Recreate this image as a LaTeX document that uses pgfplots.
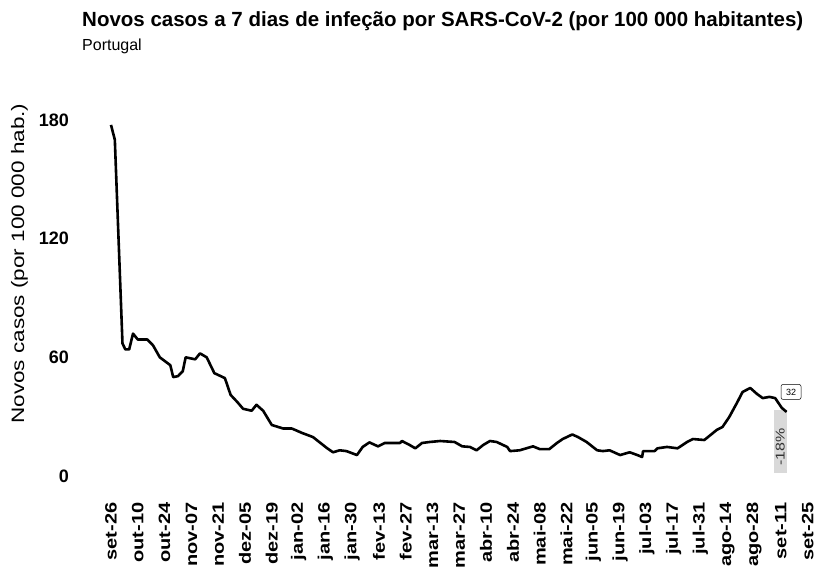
\documentclass[border=0pt]{standalone}
\usepackage{fontspec}
\setmainfont{Liberation Sans}
\usepackage{pgfplots}
\pgfplotsset{compat=1.18}

\begin{document}
\begin{tikzpicture}
\path[use as bounding box] (0pt,0pt) rectangle (819pt,-570pt);
\node[anchor=base west, inner sep=0pt, font=\bfseries\fontsize{20.5}{22}\selectfont]
  at (82pt,-26pt) {Novos casos a 7 dias de infeção por SARS-CoV-2 (por 100 000 habitantes)};
\node[anchor=base west, inner sep=0pt, font=\fontsize{16}{18}\selectfont]
  at (82pt,-50pt) {Portugal};
\begin{axis}[
    at={(101.43pt,-485.9pt)}, anchor=south west,
    scale only axis,
    width=713.9pt, height=369.9pt,
    xmin=-5, xmax=368, ymin=-5, ymax=182,
    clip=false,
    axis line style={draw=none},
    major tick length=0pt,
    /pgf/number format/assume math mode=true,
    ytick={0,60,120,180},
    yticklabel style={font=\bfseries\fontsize{18}{18}\selectfont, xshift=-29pt},
    xtick={0,14,...,364},
    xticklabels={set-26,out-10,out-24,nov-07,nov-21,dez-05,dez-19,jan-02,jan-16,jan-30,
      fev-13,fev-27,mar-13,mar-27,abr-10,abr-24,mai-08,mai-22,jun-05,jun-19,
      jul-03,jul-17,jul-31,ago-14,ago-28,set-11,set-25},
    xticklabel style={font=\bfseries\fontsize{20}{20}\selectfont, yshift=-13pt, rotate=90, yscale=0.82, anchor=east},
    ylabel={Novos casos (por 100 000 hab.)},
    ylabel style={font=\fontsize{22.5}{22.5}\selectfont, at={(rel axis cs:-0.1148,0.601)}, anchor=center, yscale=0.8},
]
% last-week bar
\addplot[fill=black!15, draw=none] coordinates {
  (346.5,1.5) (353,1.5) (353,33.4) (346.5,33.4)} -- cycle;
\addplot[black, line width=2.6pt, line join=round] coordinates {
(0,177.5) (2,170) (6,67) (7.5,64) (9.5,64) (11.5,72) (14,69) (19,69) (22,66)
(25.5,60) (31,56) (32.5,50) (35,50.5) (37.5,53) (39,60) (44,59) (46.5,62)
(50,60) (54,52) (59.5,49.5) (62.5,41) (66,37.4) (69,34) (73.5,33) (76,36)
(79.5,33) (84,25.8) (90,24) (94.5,24) (100,21.7) (105.5,19.7) (113,14)
(116,12) (119.5,13) (123,12.6) (128.5,10.6) (131.5,14.7) (135,17) (139.5,15)
(143,16.7) (151,16.7) (152,17.7) (156,15.7) (159,14) (162.5,16.7) (166.5,17.2)
(172,17.7) (179.5,17.2) (183.5,15) (187.5,14.7) (191,13) (194.5,15.7) (198,17.7)
(201.5,17.2) (207,14.7) (208.5,12.6) (213.5,13) (220.5,15) (224,13.6) (229,13.6)
(233,16.7) (236,18.7) (241,21) (244,19.7) (248.5,17.2) (254,13) (257,12.6)
(260.5,13) (266,10.6) (271,12) (275,10.6) (277.5,9.6) (278,12.6) (284,12.6)
(285.5,14) (290.5,14.7) (296,14) (301,17.2) (304,18.7) (310,18.2) (316.5,23.3)
(319.5,24.8) (323,29.8) (327,36.9) (330,42.5) (334,44.5) (337.5,41.5)
(340.5,39.4) (344,40) (347,39.4) (350.5,34.4) (353,32.4)
};
\node[rotate=90, yscale=0.8, font=\fontsize{16}{16}\selectfont, text=black!80] at (axis cs:349.6,14.7) {-18\%};
\node[draw, rounded corners=2pt, line width=0.5pt, inner sep=2pt, minimum width=20pt, minimum height=15pt,
  font=\fontsize{9}{9}\selectfont] at (axis cs:355.3,42.5) {32};
\end{axis}
\end{tikzpicture}
\end{document}
